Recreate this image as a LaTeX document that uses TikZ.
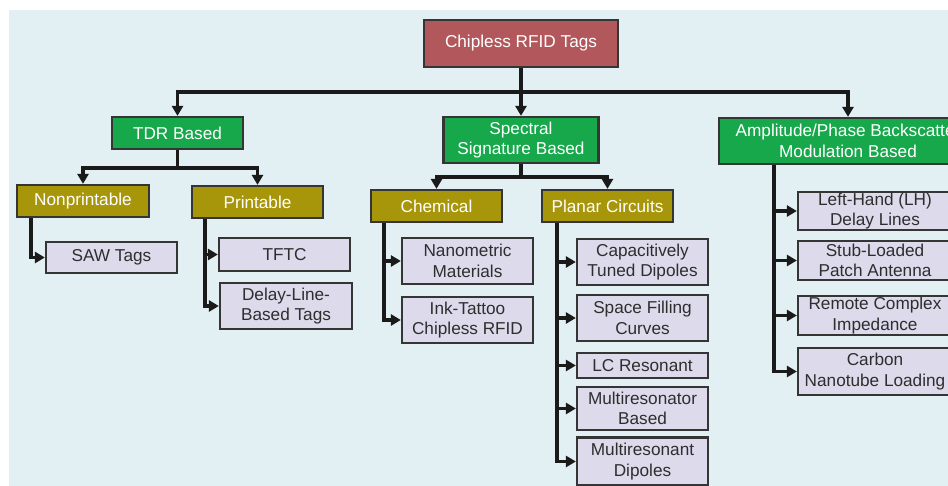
\documentclass[tikz,border=0pt]{standalone}
\usepackage{fontspec}
\setmainfont{Liberation Sans}
\usetikzlibrary{arrows.meta,calc}
\definecolor{bgc}{HTML}{E2EFF3}
\definecolor{rootc}{HTML}{B2585C}
\definecolor{grnc}{HTML}{17A84C}
\definecolor{olvc}{HTML}{A8960A}
\definecolor{leafc}{HTML}{DCDAEB}
\definecolor{bordc}{HTML}{353535}
\definecolor{linec}{HTML}{1A1A1A}
\definecolor{txtc}{HTML}{2E2E2E}
\tikzset{
 box/.style={draw=bordc, line width=2.2pt, inner sep=0pt, align=center, font=\fontsize{17.2}{20.5}\selectfont},
 rootbox/.style={box, fill=rootc, text=white},
 grnbox/.style={box, fill=grnc, text=white},
 olvbox/.style={box, fill=olvc, text=white},
 leafbox/.style={box, fill=leafc, text=txtc},
 arr/.style={line width=3.2pt, draw=linec, line join=miter, -{Triangle[length=10pt,width=11pt]}},
}
\begin{document}
\begin{tikzpicture}[x=1pt,y=-1pt]
\useasboundingbox (0,0) rectangle (948,486);
\fill[white] (0,0) rectangle (948,486);
\fill[bgc] (9,10) rectangle (960,500);
% level 0
\node[rootbox, minimum width=194pt, minimum height=47pt] (root) at (521,43.5) {Chipless RFID Tags};
% level 1
\node[grnbox, minimum width=131pt, minimum height=32pt] (tdr) at (177.5,133) {TDR Based};
\node[grnbox, minimum width=155pt, minimum height=46pt] (spec) at (521,140) {Spectral\\Signature Based};
\node[grnbox, minimum width=258pt, minimum height=46pt] (amp) at (848,141) {Amplitude/Phase Backscatter\\Modulation Based};
% level 2
\node[olvbox, minimum width=132pt, minimum height=32pt] (nonp) at (83,201) {Nonprintable};
\node[olvbox, minimum width=131pt, minimum height=32pt] (print) at (257.5,202) {Printable};
\node[olvbox, minimum width=131pt, minimum height=32pt] (chem) at (436.5,206) {Chemical};
\node[olvbox, minimum width=131pt, minimum height=32pt] (planar) at (607.5,206) {Planar Circuits};
% leaves
\node[leafbox, minimum width=131pt, minimum height=31pt] (saw) at (111.5,257.5) {SAW Tags};
\node[leafbox, minimum width=131pt, minimum height=33pt] (tftc) at (284.5,254.5) {TFTC};
\node[leafbox, minimum width=132pt, minimum height=46pt] (delay) at (286,306) {Delay-Line-\\Based Tags};
\node[leafbox, minimum width=131pt, minimum height=46pt] (nano) at (467.5,261) {Nanometric\\Materials};
\node[leafbox, minimum width=131pt, minimum height=46pt] (ink) at (467.5,320) {Ink-Tattoo\\Chipless RFID};
\node[leafbox, minimum width=131pt, minimum height=46pt] (cap) at (642.5,262) {Capacitively\\Tuned Dipoles};
\node[leafbox, minimum width=131pt, minimum height=46pt] (sfc) at (642.5,318) {Space Filling\\Curves};
\node[leafbox, minimum width=131pt, minimum height=25pt] (lc) at (642.5,365.5) {LC Resonant};
\node[leafbox, minimum width=131pt, minimum height=43pt] (mrb) at (642.5,408.5) {Multiresonator\\Based};
\node[leafbox, minimum width=131pt, minimum height=48pt] (mrd) at (642.5,461.5) {Multiresonant\\Dipoles};
\node[leafbox, minimum width=154pt, minimum height=38pt] (lh) at (875,211) {Left-Hand (LH)\\Delay Lines};
\node[leafbox, minimum width=154pt, minimum height=39pt] (stub) at (875,260.5) {Stub-Loaded\\Patch Antenna};
\node[leafbox, minimum width=154pt, minimum height=39pt] (rci) at (875,315.5) {Remote Complex\\Impedance};
\node[leafbox, minimum width=154pt, minimum height=47pt] (cnt) at (875,371.5) {Carbon\\Nanotube Loading};
% bus coordinates
\coordinate (b0) at ($(root.south)+(0,24)$);
\coordinate (b1) at ($(tdr.south)+(0,18)$);
\coordinate (b2) at ($(spec.south)+(0,13)$);
% connectors level 0 -> 1
\draw[arr] (root.south) -- (b0) -| (tdr.north);
\draw[arr] (b0) -| (amp.north);
\draw[arr] (root.south) -- (spec.north);
% level 1 -> 2
\draw[arr] (tdr.south) -- (b1) -| (nonp.north);
\draw[arr] (b1) -| (print.north);
\draw[arr] (spec.south) -- (b2) -| (chem.north);
\draw[arr] (b2) -| (planar.north);
% trunks
\coordinate (t1) at ($(nonp.south west)+(15,0)$);
\coordinate (t2) at ($(print.south west)+(14,0)$);
\coordinate (t3) at ($(chem.south west)+(14,0)$);
\coordinate (t4) at ($(planar.south west)+(16,0)$);
\coordinate (t5) at ($(amp.south west)+(56,0)$);
\draw[arr] (t1) |- (saw.west);
\draw[arr] (t2) |- (tftc.west);
\draw[arr] (t2) |- (delay.west);
\draw[arr] (t3) |- (nano.west);
\draw[arr] (t3) |- (ink.west);
\draw[arr] (t4) |- (cap.west);
\draw[arr] (t4) |- (sfc.west);
\draw[arr] (t4) |- (lc.west);
\draw[arr] (t4) |- (mrb.west);
\draw[arr] (t4) |- (mrd.west);
\draw[arr] (t5) |- (lh.west);
\draw[arr] (t5) |- (stub.west);
\draw[arr] (t5) |- (rci.west);
\draw[arr] (t5) |- (cnt.west);
\end{tikzpicture}
\end{document}
